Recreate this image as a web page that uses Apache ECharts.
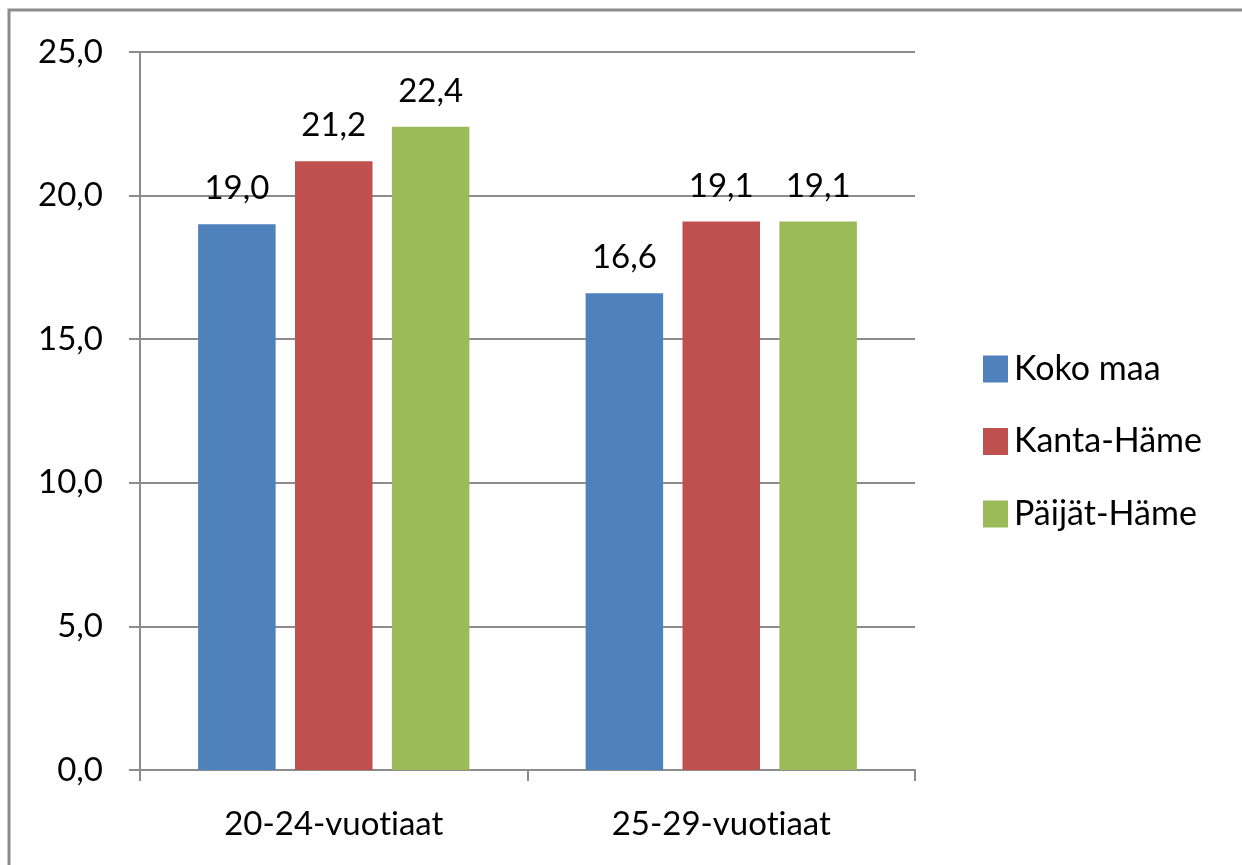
<!DOCTYPE html>
<html><head><meta charset="utf-8">
<script src="https://cdn.jsdelivr.net/npm/echarts@6/dist/echarts.min.js"></script>
<style>html,body{margin:0;padding:0;background:#fff}#c{width:1242px;height:865px}</style>
</head><body><div id="c"></div>
<script>
const categories = ['20-24-vuotiaat', '25-29-vuotiaat'];
const seriesNames = ['Koko maa', 'Kanta-Häme', 'Päijät-Häme'];
const kokoMaa = [19.0, 16.6];
const kantaHame = [21.2, 19.1];
const paijatHame = [22.4, 19.1];
const colors = ['#4F81BD', '#C0504D', '#9BBB59'];
const FONT = 'Lato';
const FS = 33;
const fmt = v => v.toFixed(1).replace('.', ',');
const noLig = s => s.replace(/ti/g, 't\u200Ci');
const chart = echarts.init(document.getElementById('c'));
const mk = (name, data, i) => ({
  name, type: 'bar', data, barWidth: '20%', barGap: '25%',
  itemStyle: { color: colors[i] },
  label: { show: true, position: 'top', distance: 19, color: '#000', fontFamily: FONT, fontSize: FS,
    formatter: p => fmt(p.value) },
  emphasis: { disabled: true }
});
chart.setOption({
  animation: false,
  textStyle: { fontFamily: FONT },
  graphic: [{ type: 'rect', shape: { x: 9, y: 10, width: 1260, height: 900 },
    style: { fill: null, stroke: '#8c8c8c', lineWidth: 3 }, silent: true, z: -1 }],
  grid: { left: 140, right: 327, top: 52, bottom: 95, containLabel: false },
  legend: {
    orient: 'vertical', left: 978, top: 347, itemWidth: 25, itemHeight: 27, itemGap: 38.5,
    icon: 'rect', data: seriesNames,
    textStyle: { fontFamily: FONT, fontSize: 34, color: '#000', padding: [0, 0, 0, 1] }
  },
  xAxis: {
    type: 'category', data: categories,
    axisLine: { lineStyle: { color: '#8c8c8c', width: 2 } },
    axisTick: { show: true, length: 11, alignWithLabel: false, lineStyle: { color: '#8c8c8c', width: 2 } },
    axisLabel: { fontFamily: FONT, fontSize: FS, color: '#000', margin: 38, formatter: v => noLig(v) }
  },
  yAxis: {
    type: 'value', min: 0, max: 25, interval: 5,
    axisLine: { show: true, lineStyle: { color: '#8c8c8c', width: 2 } },
    axisTick: { show: true, length: 11, lineStyle: { color: '#8c8c8c', width: 2 } },
    splitLine: { show: true, lineStyle: { color: '#8c8c8c', width: 2 } },
    axisLabel: { fontFamily: FONT, fontSize: FS, color: '#000', margin: 37, formatter: v => fmt(v) }
  },
  series: [mk(seriesNames[0], kokoMaa, 0), mk(seriesNames[1], kantaHame, 1), mk(seriesNames[2], paijatHame, 2)]
});
</script></body></html>
